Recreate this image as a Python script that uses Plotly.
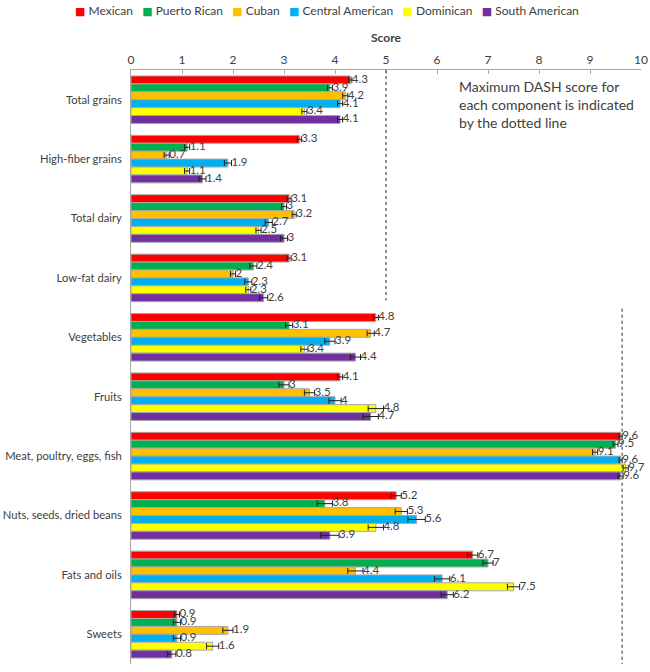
import plotly.graph_objects as go

categories = ["Total grains", "High-fiber grains", "Total dairy", "Low-fat dairy",
              "Vegetables", "Fruits", "Meat, poultry, eggs, fish",
              "Nuts, seeds, dried beans", "Fats and oils", "Sweets"]

groups = ["Mexican", "Puerto Rican", "Cuban", "Central American", "Dominican", "South American"]
colors = ["#FF0000", "#00B050", "#FFC000", "#00B0F0", "#FFFF00", "#7030A0"]

mexican = [4.3, 3.3, 3.1, 3.1, 4.8, 4.1, 9.6, 5.2, 6.7, 0.9]
puerto_rican = [3.9, 1.1, 3.0, 2.4, 3.1, 3.0, 9.5, 3.8, 7.0, 0.9]
cuban = [4.2, 0.7, 3.2, 2.0, 4.7, 3.5, 9.1, 5.3, 4.4, 1.9]
central_american = [4.1, 1.9, 2.7, 2.3, 3.9, 4.0, 9.6, 5.6, 6.1, 0.9]
dominican = [3.4, 1.1, 2.5, 2.3, 3.4, 4.8, 9.7, 4.8, 7.5, 1.6]
south_american = [4.1, 1.4, 3.0, 2.6, 4.4, 4.7, 9.6, 3.9, 6.2, 0.8]

err_mexican = [0.03, 0.04, 0.04, 0.04, 0.05, 0.05, 0.03, 0.10, 0.10, 0.05]
err_puerto_rican = [0.05, 0.05, 0.05, 0.07, 0.07, 0.10, 0.05, 0.15, 0.10, 0.07]
err_cuban = [0.05, 0.05, 0.04, 0.05, 0.07, 0.10, 0.05, 0.12, 0.15, 0.10]
err_central_american = [0.05, 0.07, 0.07, 0.07, 0.10, 0.12, 0.03, 0.17, 0.15, 0.07]
err_dominican = [0.05, 0.05, 0.05, 0.05, 0.07, 0.15, 0.05, 0.15, 0.12, 0.12]
err_south_american = [0.05, 0.07, 0.07, 0.08, 0.10, 0.15, 0.05, 0.18, 0.12, 0.08]

series = [mexican, puerto_rican, cuban, central_american, dominican, south_american]
errors = [err_mexican, err_puerto_rican, err_cuban, err_central_american, err_dominican, err_south_american]

# Maximum-score reference lines: (x position as drawn, first group, last group)
dotted_lines = [(5.0, 0, 3), (9.63, 4, 9)]

tick_vals_x = list(range(0, 11))

FONT = "Lato, 'Open Sans', sans-serif"
TXT = "#404040"

n = len(groups)
bargap = 0.2
bw = (1 - bargap) / n

fig = go.Figure()
for j, (name, col, vals, errs) in enumerate(zip(groups, colors, series, errors)):
    ypos = [i - (1 - bargap) / 2 + (j + 0.5) * bw for i in range(len(categories))]
    fig.add_trace(go.Bar(
        x=vals, y=ypos, orientation="h", width=bw, name=name,
        marker=dict(color=col, line=dict(color="#A6A6A6", width=1)),
        error_x=dict(type="data", array=errs, visible=True, color="#202020",
                     thickness=1, width=3),
        hoverinfo="x+name", showlegend=False,
    ))
for j, (vals, errs) in enumerate(zip(series, errors)):
    ypos = [i - (1 - bargap) / 2 + (j + 0.5) * bw for i in range(len(categories))]
    fig.add_trace(go.Scatter(
        x=[v + e for v, e in zip(vals, errs)], y=ypos, mode="text",
        text=[f"{v:g}" for v in vals], textposition="middle right",
        textfont=dict(family=FONT, size=11.5, color=TXT),
        showlegend=False, hoverinfo="skip", cliponaxis=False,
    ))

for xv, g0, g1 in dotted_lines:
    fig.add_shape(type="line", xref="x", yref="y", x0=xv, x1=xv,
                  y0=g0 - 0.5 + (0.0 if g0 == 0 else 0.02),
                  y1=g1 + 0.5 - (0.12 if g1 < len(categories) - 1 else 0.0),
                  line=dict(color="#595959", width=1.3, dash="dot"))

fig.add_annotation(
    x=6.4, y=0.08, xref="x", yref="y", xanchor="left", yanchor="middle",
    text="Maximum DASH score for<br>each component is indicated<br>by the dotted line",
    showarrow=False, align="left",
    font=dict(family=FONT, size=14, color=TXT),
)

# Legend row (compact, as in the reference)
gap = "&nbsp;" * 3
legend_text = gap.join(
    f"<span style='color:{c};font-family:DejaVu Sans;font-size:11px'>■</span>&nbsp;{g}"
    for g, c in zip(groups, colors)
)
fig.add_annotation(
    x=0.385, y=1.101, xref="paper", yref="paper", xanchor="center", yanchor="middle",
    text=legend_text, showarrow=False,
    font=dict(family=FONT, size=12, color=TXT),
)
# Axis title
fig.add_annotation(
    x=0.5, y=1.054, xref="paper", yref="paper", xanchor="center", yanchor="middle",
    text="<b>Score</b>", showarrow=False,
    font=dict(family=FONT, size=12, color=TXT),
)

fig.update_layout(
    width=650, height=672,
    margin=dict(l=131, r=9, t=70, b=8, autoexpand=False),
    paper_bgcolor="white", plot_bgcolor="white",
    barmode="overlay", showlegend=False,
    font=dict(family=FONT, size=12, color=TXT),
    xaxis=dict(side="top", range=[0, 10], tickvals=tick_vals_x, showgrid=False,
               zeroline=False, showline=True, linecolor="#A6A6A6", linewidth=1,
               ticks="inside", ticklen=4, tickcolor="#A6A6A6", automargin=False,
               tickfont=dict(family=FONT, size=12, color=TXT)),
    yaxis=dict(range=[len(categories) - 0.5, -0.5], tickvals=list(range(len(categories))),
               ticktext=categories, showgrid=False, zeroline=False, showline=True,
               linecolor="#A6A6A6", linewidth=1, ticks="", ticklabelstandoff=6,
               automargin=False,
               tickfont=dict(family=FONT, size=11.2, color=TXT)),
)

fig.write_html("out.html", config={"displayModeBar": False},
               post_script="document.body.style.margin='0';")
